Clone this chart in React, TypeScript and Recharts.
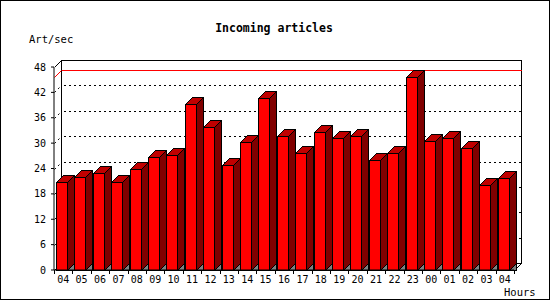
import React from "react";
import { BarChart, Bar, XAxis, YAxis, ReferenceLine, ReferenceArea } from "recharts";

document.body.style.margin = "0";

const hours = [
  "04", "05", "06", "07", "08", "09", "10", "11", "12", "13", "14", "15", "16",
  "17", "18", "19", "20", "21", "22", "23", "00", "01", "02", "03", "04",
];
const artPerSec = [
  20.9, 21.9, 23.0, 20.9, 24.0, 26.8, 27.3, 39.2, 33.7, 24.9, 30.2, 40.6, 31.6,
  27.6, 32.6, 31.1, 31.6, 25.9, 27.6, 45.6, 30.4, 31.1, 28.8, 20.0, 21.7,
];
const yTicks = [0, 6, 12, 18, 24, 30, 36, 42, 48];
const gridValues = [6, 12, 18, 24, 30, 36, 42];

const data = hours.map((h, i) => ({ idx: i, hour: h, value: artPerSec[i] }));
const maxValue = Math.max(...artPerSec);

const W = 550;
const H = 300;
const DEPTH = 7;
const PLOT_LEFT = 54;
const PLOT_RIGHT = 514;
const SLOT = (PLOT_RIGHT - PLOT_LEFT) / hours.length;
const FONT = "'DejaVu Sans Mono', monospace";

// 3D bar: front face, top face, side face and a floor shadow
function Bar3D(props: any) {
  const { x, y, width, height } = props;
  if (height == null || width == null) return null;
  const x0 = Math.round(x - 2) + 0.5;
  const y0 = Math.round(y) + 0.5;
  const w = Math.round(width);
  const b = Math.round(y + height) + 0.5;
  const d = DEPTH;
  return (
    <g stroke="#000" strokeWidth={1} shapeRendering="crispEdges">
      <polygon points={`${x0 + w},${b} ${x0 + w + d},${b - d} ${x0 + w + d},${b}`} fill="#808080" />
      <polygon
        points={`${x0 + w},${y0} ${x0 + w + d},${y0 - d} ${x0 + w + d},${b - d} ${x0 + w},${b}`}
        fill="#800000"
      />
      <polygon points={`${x0},${y0} ${x0 + d},${y0 - d} ${x0 + w + d},${y0 - d} ${x0 + w},${y0}`} fill="#c00000" />
      <rect x={x0} y={y0} width={w} height={b - y0} fill="#ff0000" />
    </g>
  );
}

// box walls behind the bars
function Frame(props: any) {
  const { x, y, width, height } = props;
  const l = Math.round(x) + 0.5;
  const t = Math.round(y) + 0.5;
  const r = Math.round(x + width) + 0.5;
  const b = Math.round(y + height) + 0.5;
  const d = DEPTH;
  return (
    <g stroke="#000" strokeWidth={1} fill="none" shapeRendering="crispEdges">
      <rect x={l + d} y={t - d} width={r - l} height={b - t} fill="#fff" />
      <line x1={l} y1={t} x2={l + d} y2={t - d} />
      <line x1={l} y1={b} x2={l + d} y2={b - d} />
      <line x1={r} y1={b} x2={r + d} y2={b - d} />
    </g>
  );
}

function BackLine(color: string, dash?: string) {
  return (props: any) => {
    const { x1, x2, y1 } = props;
    const yy = Math.round(y1) + 0.5 - DEPTH;
    const l = Math.round(Math.min(x1, x2)) + 0.5;
    const r = Math.round(Math.max(x1, x2)) + 0.5;
    return (
      <g stroke={color} strokeWidth={1} strokeDasharray={dash} fill="none">
        <line x1={l} y1={yy + DEPTH} x2={l + DEPTH} y2={yy} />
        <line x1={l + DEPTH + (dash ? 2 : 0)} y1={yy} x2={r + DEPTH} y2={yy} shapeRendering="crispEdges" />
      </g>
    );
  };
}

function HourTick(props: any) {
  const { x, y, payload } = props;
  const i = payload.value as number;
  const left = Math.round(x - SLOT / 2) + 0.5;
  const right = Math.round(x + SLOT / 2) + 0.5;
  return (
    <g>
      <line x1={left} y1={y} x2={left} y2={y + 4} stroke="#000" shapeRendering="crispEdges" />
      {i === hours.length - 1 && (
        <line x1={right} y1={y} x2={right} y2={y + 4} stroke="#000" shapeRendering="crispEdges" />
      )}
      <text x={x} y={y + 13} textAnchor="middle" fontFamily={FONT} fontSize={10} fill="#000">
        {hours[i]}
      </text>
    </g>
  );
}

export default function App() {
  return (
    <div style={{ position: "relative", width: W, height: H, background: "#fff" }}>
      <BarChart
        width={W}
        height={H}
        data={data}
        margin={{ top: 67, right: W - PLOT_RIGHT, bottom: 0, left: 0 }}
        barSize={11}
      >
        <XAxis
          dataKey="idx"
          type="category"
          interval={0}
          tickSize={0}
          tickMargin={0}
          height={30}
          axisLine={{ stroke: "#000" }}
          tick={<HourTick />}
        />
        <YAxis
          domain={[0, 48]}
          ticks={yTicks}
          width={PLOT_LEFT}
          tickSize={3}
          tickMargin={5}
          axisLine={{ stroke: "#000" }}
          tickLine={{ stroke: "#000" }}
          tick={{ fontFamily: FONT, fontSize: 10, fill: "#000" }}
          interval={0}
        />
        <ReferenceArea y1={0} y2={48} shape={<Frame />} zIndex={-90} ifOverflow="visible" />
        {gridValues.map((v) => (
          <ReferenceLine key={v} y={v} shape={BackLine("#000", "2 3")} zIndex={-80} />
        ))}
        <ReferenceLine y={maxValue} shape={BackLine("#ff0000")} zIndex={-70} />
        <Bar dataKey="value" isAnimationActive={false} shape={<Bar3D />} />
        <text x={274} y={32} textAnchor="middle" fontFamily={FONT} fontSize={11.5} fontWeight="bold" fill="#000">
          Incoming articles
        </text>
        <text x={29} y={43} fontFamily={FONT} fontSize={10.5} fill="#000">
          Art/sec
        </text>
        <text x={504} y={296} fontFamily={FONT} fontSize={10.5} fill="#000">
          Hours
        </text>
      </BarChart>
      <div
        style={{
          position: "absolute",
          inset: 0,
          border: "1px solid #000",
          pointerEvents: "none",
        }}
      />
    </div>
  );
}
